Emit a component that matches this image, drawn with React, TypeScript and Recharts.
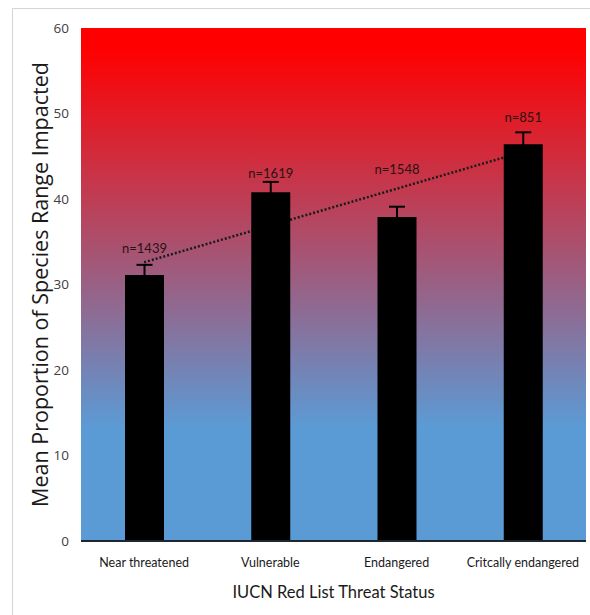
import React from 'react';
import {
  ComposedChart,
  Bar,
  Line,
  XAxis,
  YAxis,
  CartesianGrid,
  ErrorBar,
  LabelList,
} from 'recharts';

const categories = ['Near threatened', 'Vulnerable', 'Endangered', 'Critcally endangered'];
const means = [31.1, 40.8, 37.9, 46.4];
const errors = [1.2, 1.2, 1.2, 1.4];
const sampleSizes = [1439, 1619, 1548, 851];
const trend = [32.6, 36.9, 41.2, 45.5];
const yTicks = [0, 10, 20, 30, 40, 50, 60];

const data = categories.map((name, i) => ({
  name,
  mean: means[i],
  err: errors[i],
  n: sampleSizes[i],
  trend: trend[i],
}));

// gap (px) between the top of each error bar and the centre of its n= label
const labelGap = [15, 7, 36, 14];

const calibriLike = "Lato, 'Open Sans', sans-serif";
const W = 590;
const H = 615;
const chartMargin = { top: 28, right: 4, left: 0, bottom: 0 };

const NLabel = (props: any) => {
  const { x, y, width, height, index } = props;
  const d = data[index];
  const pxPerUnit = height / d.mean;
  const errTop = y - d.err * pxPerUnit;
  return (
    <text
      x={x + width / 2}
      y={errTop - labelGap[index]}
      textAnchor="middle"
      dominantBaseline="middle"
      fontFamily={calibriLike}
      fontSize={13}
      fill="#2a1212"
    >
      {`n=${d.n}`}
    </text>
  );
};

export default function App() {
  return (
    <div
      style={{
        position: 'fixed',
        left: 0,
        top: 0,
        width: W,
        height: H,
        background: '#fff',
        overflow: 'hidden',
      }}
    >
      <div
        style={{
          position: 'absolute',
          left: 12,
          top: 8,
          width: 600,
          height: 620,
          borderLeft: '1px solid #d4d4d4',
          borderTop: '1px solid #d4d4d4',
        }}
      />
      {/* background, axes text and the trend line (sits behind the bars) */}
      <div style={{ position: 'absolute', left: 0, top: 0 }}>
        <ComposedChart width={W} height={H} data={data} margin={chartMargin} barSize={39}>
          <defs>
            <linearGradient id="bg" x1="0" y1="0" x2="0" y2="1">
              <stop offset="0" stopColor="#ff0000" />
              <stop offset="0.04" stopColor="#ff0000" />
              <stop offset="0.78" stopColor="#5b9bd5" />
              <stop offset="1" stopColor="#5b9bd5" />
            </linearGradient>
          </defs>
          <CartesianGrid fill="url(#bg)" horizontal={false} vertical={false} stroke="none" />
          <XAxis
            dataKey="name"
            height={74}
            axisLine={false}
            tickLine={false}
            tickSize={6}
            tickMargin={11}
            tick={{ fontFamily: calibriLike, fontSize: 12.5, fill: '#1a1a1a' }}
            interval={0}
            label={{
              value: 'IUCN Red List Threat Status',
              position: 'insideBottom',
              offset: 17,
              style: { fontFamily: calibriLike, fontSize: 16.5, fill: '#1a1a1a' },
            }}
          />
          <YAxis
            width={81}
            domain={[0, 60]}
            ticks={yTicks}
            axisLine={false}
            tickLine={false}
            tickSize={6}
            tickMargin={6}
            tick={{ fontFamily: "'Open Sans', sans-serif", fontSize: 13.5, fill: '#404040' }}
            label={{
              value: 'Mean Proportion of Species Range Impacted',
              angle: -90,
              position: 'insideLeft',
              offset: 40,
              style: {
                textAnchor: 'middle',
                fontFamily: "'Open Sans', sans-serif",
                fontSize: 21.5,
                fill: '#1a1a1a',
              },
            }}
          />
          {/* invisible bars keep the category bands identical to the top layer */}
          <Bar dataKey="mean" fill="none" isAnimationActive={false} />
          <Line
            dataKey="trend"
            stroke="#1a1a1a"
            strokeWidth={2.5}
            strokeDasharray="2 2"
            dot={false}
            activeDot={false}
            isAnimationActive={false}
          />
        </ComposedChart>
      </div>
      {/* bars, error bars, n= labels and the x axis line */}
      <div style={{ position: 'absolute', left: 0, top: 0 }}>
        <ComposedChart width={W} height={H} data={data} margin={chartMargin} barSize={39}>
          <XAxis
            dataKey="name"
            height={74}
            axisLine={{ stroke: '#1f2630', strokeWidth: 2 }}
            tickLine={false}
            tick={false}
          />
          <YAxis width={81} domain={[0, 60]} ticks={yTicks} axisLine={false} tickLine={false} tick={false} />
          <Bar dataKey="mean" fill="#000" isAnimationActive={false}>
            <ErrorBar dataKey="err" width={8} stroke="#000" strokeWidth={2} direction="y" />
            <LabelList dataKey="n" content={NLabel} />
          </Bar>
        </ComposedChart>
      </div>
    </div>
  );
}
